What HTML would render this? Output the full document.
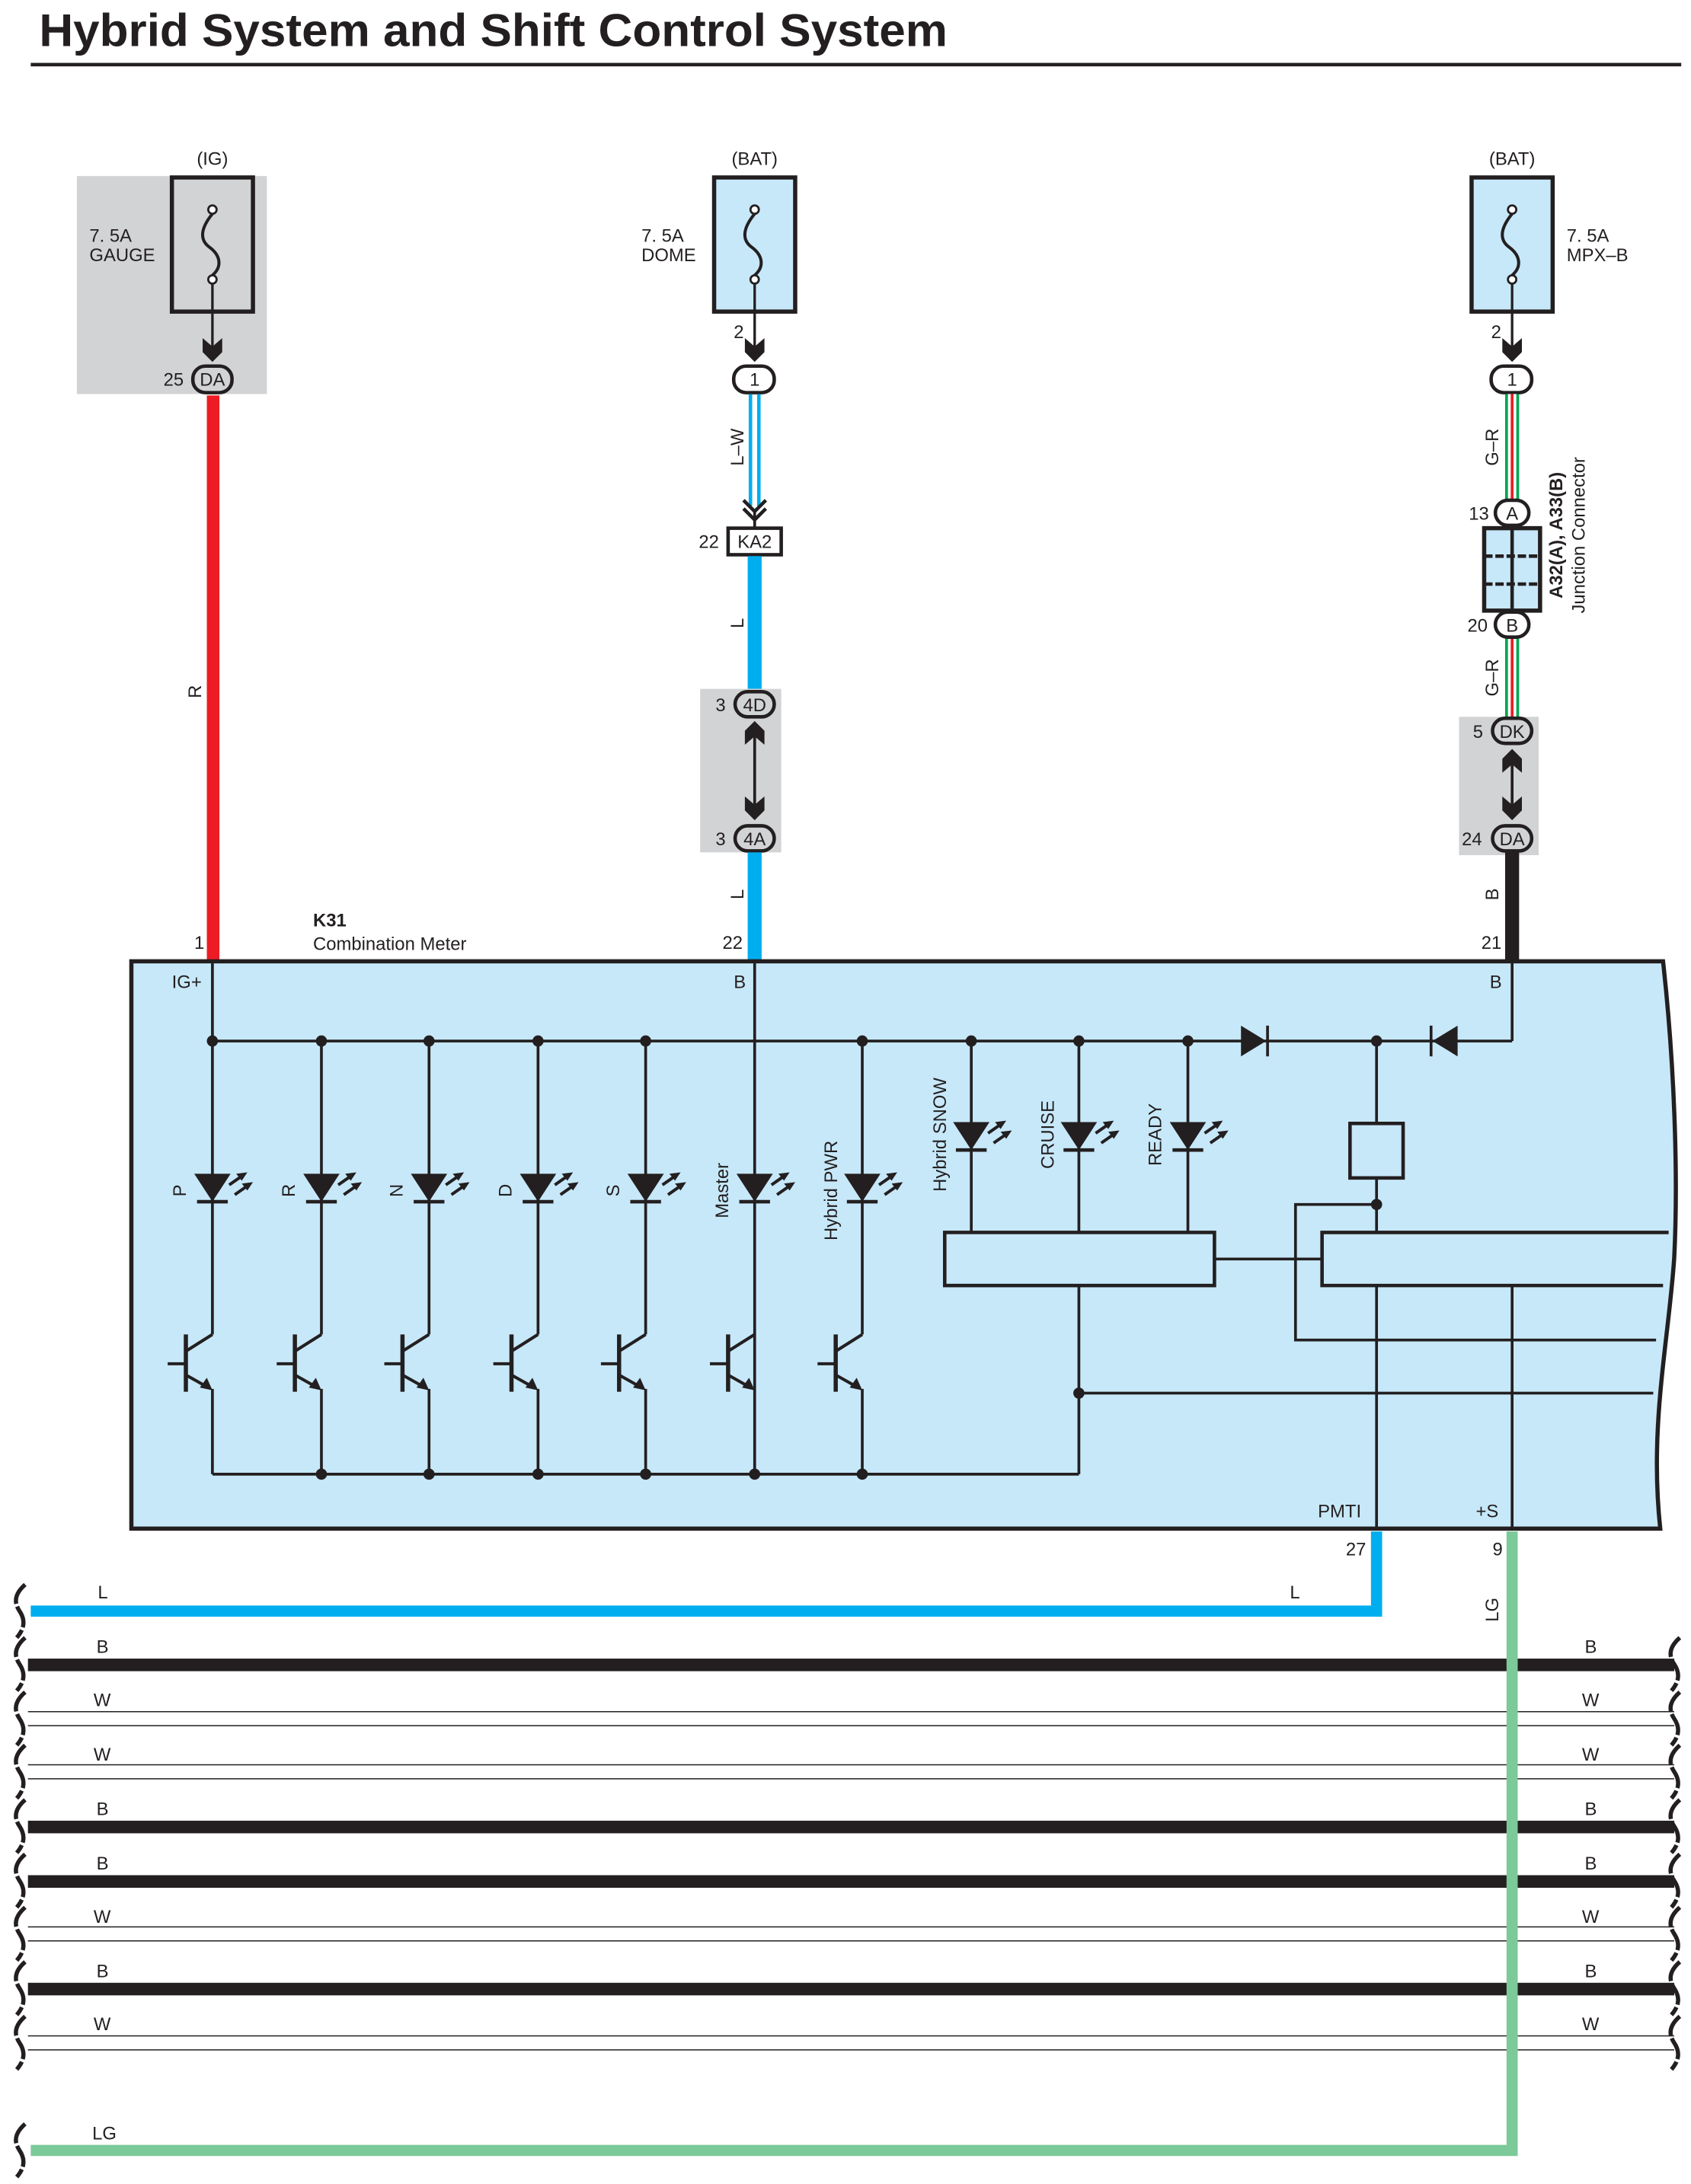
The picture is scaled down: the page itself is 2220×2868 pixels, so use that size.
<!DOCTYPE html>
<html><head><meta charset="utf-8"><style>
html,body{margin:0;padding:0;background:#fff}
svg{display:block}
text{font-family:"Liberation Sans",sans-serif;fill:#231f20}
</style></head><body>
<svg width="2220" height="2868" viewBox="0 0 1210 1563" preserveAspectRatio="none" xmlns="http://www.w3.org/2000/svg">
<defs>
<g id="led">
<polygon points="-13,-10 13,-10 0,10" fill="#231f20"/>
<line x1="-11" y1="10" x2="11" y2="10" stroke="#231f20" stroke-width="2.5"/>
<line x1="12" y1="-2" x2="22" y2="-9" stroke="#231f20" stroke-width="2.2"/>
<polygon points="25,-11 17,-10 21,-5" fill="#231f20"/>
<line x1="16" y1="5" x2="26" y2="-2" stroke="#231f20" stroke-width="2.2"/>
<polygon points="29,-4 21,-3 25,2" fill="#231f20"/>
</g>
<g id="tr" stroke="#231f20" stroke-width="2.2" fill="none">
<line x1="-19" y1="955" x2="-19" y2="996" stroke-width="3"/>
<line x1="-32" y1="976" x2="-19" y2="976"/>
<line x1="-19" y1="967" x2="0" y2="955"/>
<line x1="-19" y1="984" x2="-3" y2="993"/>
<polygon points="0,995 -9,993 -4,986" fill="#231f20" stroke="none"/>
</g>
<g id="dn"><polygon points="-7,-10 0,-4 7,-10 7,0 0,7 -7,0" fill="#231f20"/></g>
<g id="up"><polygon points="-7,10 0,4 7,10 7,0 0,-7 -7,0" fill="#231f20"/></g>
<path id="wv" d="M22,-19 C14,-12 14,-6 18,0 C22,6 22,12 16,19" fill="none" stroke="#231f20" stroke-width="3" stroke-dasharray="16,2"/>
<path id="fz" d="M0,153 C-9,164 -9,172 -2,177 C6,183 7,191 0,197" fill="none" stroke="#231f20" stroke-width="2.2"/>
</defs>

<text x="28" y="33" font-size="33" font-weight="bold" textLength="650" lengthAdjust="spacingAndGlyphs">Hybrid System and Shift Control System</text>
<rect x="22" y="45" width="1181" height="2.5" fill="#231f20"/>

<!-- Fuse 1 -->
<rect x="55" y="126" width="136" height="156" fill="#d1d3d4"/>
<rect x="123" y="127" width="58" height="96" fill="none" stroke="#231f20" stroke-width="3"/>
<text x="152" y="118" font-size="13" text-anchor="middle">(IG)</text>
<text x="64" y="173" font-size="13">7. 5A</text>
<text x="64" y="187" font-size="13">GAUGE</text>
<use href="#fz" x="152"/>
<circle cx="152" cy="150" r="3" fill="#fff" stroke="#231f20" stroke-width="1.5"/>
<circle cx="152" cy="200" r="3" fill="#fff" stroke="#231f20" stroke-width="1.5"/>
<line x1="152" y1="203" x2="152" y2="250" stroke="#231f20" stroke-width="1.8"/>
<use href="#dn" x="152" y="252"/>
<rect x="138" y="262" width="28" height="19" rx="9" fill="#d1d3d4" stroke="#231f20" stroke-width="2.5"/>
<text x="152" y="276" font-size="13" text-anchor="middle">DA</text>
<text x="117" y="276" font-size="13">25</text>
<rect x="148" y="283" width="9" height="405" fill="#ed1c24"/>
<text x="144" y="495" font-size="13" transform="rotate(-90 144 495)" text-anchor="middle">R</text>

<!-- Fuse 2 -->
<rect x="511" y="127" width="58" height="96" fill="#c7e8f9" stroke="#231f20" stroke-width="3"/>
<text x="540" y="118" font-size="13" text-anchor="middle">(BAT)</text>
<text x="459" y="173" font-size="13">7. 5A</text>
<text x="459" y="187" font-size="13">DOME</text>
<use href="#fz" x="540"/>
<circle cx="540" cy="150" r="3" fill="#fff" stroke="#231f20" stroke-width="1.5"/>
<circle cx="540" cy="200" r="3" fill="#fff" stroke="#231f20" stroke-width="1.5"/>
<line x1="540" y1="203" x2="540" y2="250" stroke="#231f20" stroke-width="1.8"/>
<use href="#dn" x="540" y="252"/>
<text x="525" y="242" font-size="13">2</text>
<rect x="525" y="262" width="29" height="19" rx="9" fill="#fff" stroke="#231f20" stroke-width="2.5"/>
<text x="540" y="276" font-size="13" text-anchor="middle">1</text>
<line x1="537" y1="282" x2="537" y2="362" stroke="#00aeef" stroke-width="2.5"/>
<line x1="543" y1="282" x2="543" y2="362" stroke="#00aeef" stroke-width="2.5"/>
<polyline points="532,358 540,366 548,358" fill="none" stroke="#231f20" stroke-width="2.5"/>
<polyline points="532,364 540,372 548,364" fill="none" stroke="#231f20" stroke-width="2.5"/>
<line x1="540" y1="366" x2="540" y2="378" stroke="#231f20" stroke-width="2"/>
<text x="532" y="320" font-size="13" transform="rotate(-90 532 320)" text-anchor="middle">L–W</text>
<rect x="521" y="378" width="38" height="19" fill="#fff" stroke="#231f20" stroke-width="2.5"/>
<text x="540" y="392" font-size="13" text-anchor="middle">KA2</text>
<text x="500" y="392" font-size="13">22</text>
<rect x="535" y="398" width="10" height="95" fill="#00aeef"/>
<text x="532" y="446" font-size="13" transform="rotate(-90 532 446)" text-anchor="middle">L</text>
<rect x="501" y="493" width="58" height="117" fill="#d1d3d4"/>
<rect x="526" y="495" width="28" height="18" rx="9" fill="#d1d3d4" stroke="#231f20" stroke-width="2.5"/>
<text x="540" y="509" font-size="13" text-anchor="middle">4D</text>
<text x="512" y="509" font-size="13">3</text>
<use href="#up" x="540" y="523"/>
<line x1="540" y1="525" x2="540" y2="578" stroke="#231f20" stroke-width="2"/>
<use href="#dn" x="540" y="580"/>
<rect x="526" y="591" width="28" height="18" rx="9" fill="#d1d3d4" stroke="#231f20" stroke-width="2.5"/>
<text x="540" y="605" font-size="13" text-anchor="middle">4A</text>
<text x="512" y="605" font-size="13">3</text>
<rect x="535" y="610" width="10" height="78" fill="#00aeef"/>
<text x="532" y="640" font-size="13" transform="rotate(-90 532 640)" text-anchor="middle">L</text>
<text x="517" y="679" font-size="13">22</text>

<!-- Fuse 3 -->
<rect x="1053" y="127" width="58" height="96" fill="#c7e8f9" stroke="#231f20" stroke-width="3"/>
<text x="1082" y="118" font-size="13" text-anchor="middle">(BAT)</text>
<text x="1121" y="173" font-size="13">7. 5A</text>
<text x="1121" y="187" font-size="13">MPX–B</text>
<use href="#fz" x="1082"/>
<circle cx="1082" cy="150" r="3" fill="#fff" stroke="#231f20" stroke-width="1.5"/>
<circle cx="1082" cy="200" r="3" fill="#fff" stroke="#231f20" stroke-width="1.5"/>
<line x1="1082" y1="203" x2="1082" y2="250" stroke="#231f20" stroke-width="1.8"/>
<use href="#dn" x="1082" y="252"/>
<text x="1067" y="242" font-size="13">2</text>
<rect x="1067" y="262" width="29" height="19" rx="9" fill="#fff" stroke="#231f20" stroke-width="2.5"/>
<text x="1082" y="276" font-size="13" text-anchor="middle">1</text>
<g>
<rect x="1077" y="282" width="10" height="77" fill="#00a651"/>
<rect x="1079" y="282" width="6" height="77" fill="#fff"/>
<rect x="1081" y="282" width="2" height="77" fill="#ed1c24"/>
<rect x="1077" y="457" width="10" height="57" fill="#00a651"/>
<rect x="1079" y="457" width="6" height="57" fill="#fff"/>
<rect x="1081" y="457" width="2" height="57" fill="#ed1c24"/>
</g>
<text x="1072" y="320" font-size="13" transform="rotate(-90 1072 320)" text-anchor="middle">G–R</text>
<text x="1072" y="485" font-size="13" transform="rotate(-90 1072 485)" text-anchor="middle">G–R</text>
<rect x="1070" y="358" width="24" height="18" rx="9" fill="#fff" stroke="#231f20" stroke-width="2.5"/>
<text x="1082" y="372" font-size="13" text-anchor="middle">A</text>
<text x="1051" y="372" font-size="13">13</text>
<rect x="1062" y="378" width="40" height="59" fill="#c7e8f9" stroke="#231f20" stroke-width="3"/>
<line x1="1082" y1="378" x2="1082" y2="437" stroke="#231f20" stroke-width="2.5"/>
<line x1="1062" y1="398" x2="1102" y2="398" stroke="#231f20" stroke-width="2.5" stroke-dasharray="6,2"/>
<line x1="1062" y1="418" x2="1102" y2="418" stroke="#231f20" stroke-width="2.5" stroke-dasharray="6,2"/>
<rect x="1070" y="438" width="24" height="18" rx="9" fill="#fff" stroke="#231f20" stroke-width="2.5"/>
<text x="1082" y="452" font-size="13" text-anchor="middle">B</text>
<text x="1050" y="452" font-size="13">20</text>
<text x="1118" y="383" font-size="13" font-weight="bold" transform="rotate(-90 1118 383)" text-anchor="middle">A32(A), A33(B)</text>
<text x="1134" y="383" font-size="13" transform="rotate(-90 1134 383)" text-anchor="middle">Junction Connector</text>
<rect x="1044" y="513" width="57" height="99" fill="#d1d3d4"/>
<rect x="1068" y="514" width="28" height="18" rx="9" fill="#d1d3d4" stroke="#231f20" stroke-width="2.5"/>
<text x="1082" y="528" font-size="13" text-anchor="middle">DK</text>
<text x="1054" y="528" font-size="13">5</text>
<use href="#up" x="1082" y="543"/>
<line x1="1082" y1="545" x2="1082" y2="578" stroke="#231f20" stroke-width="2"/>
<use href="#dn" x="1082" y="580"/>
<rect x="1068" y="591" width="28" height="18" rx="9" fill="#d1d3d4" stroke="#231f20" stroke-width="2.5"/>
<text x="1082" y="605" font-size="13" text-anchor="middle">DA</text>
<text x="1046" y="605" font-size="13">24</text>
<rect x="1077" y="610" width="10" height="78" fill="#231f20"/>
<text x="1072" y="640" font-size="13" transform="rotate(-90 1072 640)" text-anchor="middle">B</text>
<text x="1060" y="679" font-size="13">21</text>

<!-- Meter -->
<text x="224" y="663" font-size="13" font-weight="bold">K31</text>
<text x="224" y="680" font-size="13">Combination Meter</text>
<text x="139" y="679" font-size="13">1</text>
<path d="M94,688 L1190,688 C1198,760 1201,840 1198,900 C1194,960 1180,1020 1188,1094 L94,1094 Z" fill="#c7e8f9" stroke="#231f20" stroke-width="3"/>
<text x="123" y="707" font-size="13">IG+</text>
<text x="525" y="707" font-size="13">B</text>
<text x="1066" y="707" font-size="13">B</text>
<text x="943" y="1086" font-size="13">PMTI</text>
<text x="1056" y="1086" font-size="13">+S</text>

<g stroke="#231f20" stroke-width="2" fill="none">
<line x1="152" y1="688" x2="152" y2="745"/>
<line x1="540" y1="688" x2="540" y2="1055"/>
<line x1="152" y1="745" x2="1082" y2="745"/>
<line x1="1082" y1="688" x2="1082" y2="745"/>
<line x1="152" y1="745" x2="152" y2="955"/><line x1="152" y1="994" x2="152" y2="1055"/>
<line x1="230" y1="745" x2="230" y2="955"/><line x1="230" y1="994" x2="230" y2="1055"/>
<line x1="307" y1="745" x2="307" y2="955"/><line x1="307" y1="994" x2="307" y2="1055"/>
<line x1="385" y1="745" x2="385" y2="955"/><line x1="385" y1="994" x2="385" y2="1055"/>
<line x1="462" y1="745" x2="462" y2="955"/><line x1="462" y1="994" x2="462" y2="1055"/>
<line x1="617" y1="745" x2="617" y2="955"/><line x1="617" y1="994" x2="617" y2="1055"/>
<line x1="152" y1="1055" x2="772" y2="1055"/>
<line x1="695" y1="745" x2="695" y2="882"/>
<line x1="772" y1="745" x2="772" y2="882"/>
<line x1="850" y1="745" x2="850" y2="882"/>
<line x1="772" y1="920" x2="772" y2="1055"/>
<line x1="772" y1="997" x2="1183" y2="997"/>
<line x1="869" y1="901" x2="946" y2="901"/>
<line x1="985" y1="745" x2="985" y2="804"/>
<line x1="985" y1="843" x2="985" y2="882"/>
<polyline points="985,862 927,862 927,959 1185,959"/>
<line x1="985" y1="920" x2="985" y2="1094"/>
<line x1="1082" y1="920" x2="1082" y2="1094"/>
</g>
<g fill="none" stroke="#231f20" stroke-width="2.5">
<rect x="676" y="882" width="193" height="38"/>
<path d="M1194,882 L946,882 L946,920 L1190,920"/>
<rect x="966" y="804" width="38" height="39"/>
</g>
<polygon points="888,734 906,745 888,756" fill="#231f20"/>
<line x1="907" y1="734" x2="907" y2="756" stroke="#231f20" stroke-width="2"/>
<polygon points="1043,734 1025,745 1043,756" fill="#231f20"/>
<line x1="1024" y1="734" x2="1024" y2="756" stroke="#231f20" stroke-width="2"/>
<g fill="#231f20">
<circle cx="152" cy="745" r="4"/><circle cx="230" cy="745" r="4"/><circle cx="307" cy="745" r="4"/><circle cx="385" cy="745" r="4"/><circle cx="462" cy="745" r="4"/><circle cx="617" cy="745" r="4"/><circle cx="695" cy="745" r="4"/><circle cx="772" cy="745" r="4"/><circle cx="850" cy="745" r="4"/><circle cx="985" cy="745" r="4"/><circle cx="985" cy="862" r="4"/>
<circle cx="230" cy="1055" r="4"/><circle cx="307" cy="1055" r="4"/><circle cx="385" cy="1055" r="4"/><circle cx="462" cy="1055" r="4"/><circle cx="540" cy="1055" r="4"/><circle cx="617" cy="1055" r="4"/><circle cx="772" cy="997" r="4"/>
</g>
<use href="#led" x="152" y="850"/><use href="#led" x="230" y="850"/><use href="#led" x="307" y="850"/><use href="#led" x="385" y="850"/><use href="#led" x="462" y="850"/><use href="#led" x="540" y="850"/><use href="#led" x="617" y="850"/>
<use href="#led" x="695" y="813"/><use href="#led" x="772" y="813"/><use href="#led" x="850" y="813"/>
<use href="#tr" x="152"/><use href="#tr" x="230"/><use href="#tr" x="307"/><use href="#tr" x="385"/><use href="#tr" x="462"/><use href="#tr" x="540"/><use href="#tr" x="617"/>
<g font-size="13">
<text x="133" y="852" transform="rotate(-90 133 852)" text-anchor="middle">P</text>
<text x="211" y="852" transform="rotate(-90 211 852)" text-anchor="middle">R</text>
<text x="288" y="852" transform="rotate(-90 288 852)" text-anchor="middle">N</text>
<text x="366" y="852" transform="rotate(-90 366 852)" text-anchor="middle">D</text>
<text x="443" y="852" transform="rotate(-90 443 852)" text-anchor="middle">S</text>
<text x="521" y="852" transform="rotate(-90 521 852)" text-anchor="middle">Master</text>
<text x="599" y="852" transform="rotate(-90 599 852)" text-anchor="middle">Hybrid PWR</text>
<text x="677" y="812" transform="rotate(-90 677 812)" text-anchor="middle">Hybrid SNOW</text>
<text x="754" y="812" transform="rotate(-90 754 812)" text-anchor="middle">CRUISE</text>
<text x="831" y="812" transform="rotate(-90 831 812)" text-anchor="middle">READY</text>
</g>

<text x="963" y="1113" font-size="13">27</text>
<text x="1068" y="1113" font-size="13">9</text>
<path d="M985,1096 L985,1153 L22,1153" fill="none" stroke="#00aeef" stroke-width="8"/>
<text x="70" y="1144" font-size="13">L</text>
<text x="923" y="1144" font-size="13">L</text>
<g fill="#231f20">
<rect x="20" y="1187" width="1178" height="9"/>
<rect x="20" y="1303" width="1178" height="9"/>
<rect x="20" y="1342" width="1178" height="9"/>
<rect x="20" y="1419" width="1178" height="9"/>
</g>
<g stroke="#231f20" stroke-width="0.8">
<line x1="20" y1="1225" x2="1198" y2="1225"/><line x1="20" y1="1235" x2="1198" y2="1235"/>
<line x1="20" y1="1263" x2="1198" y2="1263"/><line x1="20" y1="1273" x2="1198" y2="1273"/>
<line x1="20" y1="1379" x2="1198" y2="1379"/><line x1="20" y1="1389" x2="1198" y2="1389"/>
<line x1="20" y1="1457" x2="1198" y2="1457"/><line x1="20" y1="1467" x2="1198" y2="1467"/>
</g>
<path d="M1082,1096 L1082,1539 L22,1539" fill="none" stroke="#7cc99a" stroke-width="8"/>
<text x="1072" y="1152" font-size="13" transform="rotate(-90 1072 1152)" text-anchor="middle">LG</text>
<text x="66" y="1531" font-size="13">LG</text>
<g font-size="13">
<text x="69" y="1183">B</text><text x="1134" y="1183">B</text>
<text x="67" y="1221">W</text><text x="1132" y="1221">W</text>
<text x="67" y="1260">W</text><text x="1132" y="1260">W</text>
<text x="69" y="1299">B</text><text x="1134" y="1299">B</text>
<text x="69" y="1338">B</text><text x="1134" y="1338">B</text>
<text x="67" y="1376">W</text><text x="1132" y="1376">W</text>
<text x="69" y="1415">B</text><text x="1134" y="1415">B</text>
<text x="67" y="1453">W</text><text x="1132" y="1453">W</text>
</g>
<g>
<use href="#wv" x="-4" y="1153"/><use href="#wv" x="-4" y="1191"/><use href="#wv" x="-4" y="1230"/><use href="#wv" x="-4" y="1268"/><use href="#wv" x="-4" y="1307"/><use href="#wv" x="-4" y="1346"/><use href="#wv" x="-4" y="1384"/><use href="#wv" x="-4" y="1423"/><use href="#wv" x="-4" y="1462"/><use href="#wv" x="-4" y="1539"/>
<use href="#wv" x="1180" y="1191"/><use href="#wv" x="1180" y="1230"/><use href="#wv" x="1180" y="1268"/><use href="#wv" x="1180" y="1307"/><use href="#wv" x="1180" y="1346"/><use href="#wv" x="1180" y="1384"/><use href="#wv" x="1180" y="1423"/><use href="#wv" x="1180" y="1462"/>
</g>
</svg>
</body></html>
